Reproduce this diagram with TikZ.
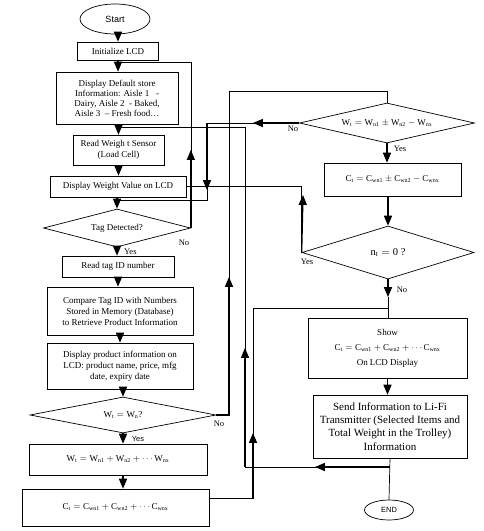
\documentclass[tikz,border=0pt]{standalone}
\usepackage{fontspec}
\setmainfont{Liberation Serif}
\newfontfamily\sansfam{Liberation Sans}
\usepackage{amsmath}
\usetikzlibrary{arrows,shapes,positioning,calc}

\begin{document}
\begin{tikzpicture}[x=1pt,y=-1pt,
  box/.style={draw,line width=0.7pt,rectangle,align=center,inner sep=1pt,font=\fontsize{9}{11}\selectfont},
  dec/.style={draw,line width=0.7pt,diamond,aspect=4,inner sep=0pt,font=\fontsize{9}{11}\selectfont},
  term/.style={draw,line width=0.7pt,ellipse,inner sep=0pt,font=\sansfam\fontsize{9}{11}\selectfont},
  flow/.style={line width=0.7pt},
  arr/.style={-triangle 45,line width=1.3pt},
  lbl/.style={font=\fontsize{8.5}{10}\selectfont,inner sep=0pt}]
\useasboundingbox (0,0) rectangle (484,531);

% left column
\node[term,minimum width=70pt,minimum height=30pt] (start) at (115,19) {Start};
\node[box,minimum width=81pt,minimum height=18pt] (init) at (118,51) {Initialize LCD};
\node[box,minimum width=122pt,minimum height=52pt,font=\fontsize{9}{10}\selectfont] (dflt) at (117,98)
  {Display Default store\\Information: Aisle 1\ \ \ -\\Dairy, Aisle 2\ \ - Baked,\\Aisle 3\ \ -- Fresh food…};
\node[box,minimum width=91pt,minimum height=30pt] (rws) at (118.5,150) {Read Weigh t Sensor\\(Load Cell)};
\node[box,minimum width=136pt,minimum height=21pt] (dwv) at (118,186.5) {Display Weight Value on LCD};
\node[dec,minimum width=147pt,minimum height=38pt] (tag) at (117,228) {Tag Detected?};
\node[box,minimum width=112pt,minimum height=21pt] (rtag) at (118,266.5) {Read tag ID number};
\node[box,minimum width=146pt,minimum height=48pt] (cmp) at (120,311)
  {Compare Tag ID with Numbers\\Stored in Memory (Database)\\to Retrieve Product Information};
\node[box,minimum width=146pt,minimum height=46pt] (dpi) at (120,366)
  {Display product information on\\LCD: product name, price, mfg\\date, expiry date};
\node[dec,minimum width=186pt,minimum height=36pt] (wtn) at (123,415) {$\mathrm{W_t = W_n}$?};
\node[box,minimum width=178pt,minimum height=31pt] (wsum) at (118,459.5)
  {$\mathrm{W_t = W_{n1} + W_{n2} + \cdots W_{nx}}$};
\node[box,minimum width=187pt,minimum height=37pt] (csum) at (115.5,507.5)
  {$\mathrm{C_t = C_{wn1} + C_{wn2} + \cdots C_{wnx}}$};

% right column
\node[dec,minimum width=175pt,minimum height=40pt] (wchk) at (387,123)
  {$\mathrm{W_t = W_{n1} \pm W_{n2} - W_{nx}}$};
\node[box,minimum width=137pt,minimum height=33pt] (cchk) at (392.5,179.5)
  {$\mathrm{C_t = C_{wn1} \pm C_{wn2} - C_{wnx}}$};
\node[dec,minimum width=172pt,minimum height=53pt,font=\fontsize{10.5}{12}\selectfont] (nt) at (388,252.5) {$\mathrm{n_t = 0}$ ?};
\node[box,minimum width=159pt,minimum height=60pt] (show) at (387.5,348)
  {Show\\[4pt]$\mathrm{C_t = C_{wn1} + C_{wn2} + \cdots C_{wnx}}$\\[4pt]On LCD Display};
\node[box,minimum width=154pt,minimum height=63pt,font=\fontsize{11}{13.3}\selectfont] (send) at (390,426.5)
  {Send Information to Li-Fi\\Transmitter (Selected Items and\\Total Weight in the Trolley)\\Information};
\node[term,minimum width=49pt,minimum height=20pt,font=\sansfam\fontsize{7.5}{9}\selectfont] (end) at (389,510) {END};

% bends of the loops
\coordinate (tnA) at (190,62);
\coordinate (tnM) at (190,150);
\coordinate (wnA) at (207,123);
\coordinate (wnM) at (207,190);
\coordinate (wnB) at (207,200);
\coordinate (wtA) at (229,91);
\coordinate (wtM) at (229,277);
\coordinate (slA) at (245,467);
\coordinate (slB) at (245,127);
\coordinate (slM) at (245,348);
\coordinate (slN) at (315,467);
\coordinate (csA) at (253,498);
\coordinate (csB) at (253,308);
\coordinate (csM) at (253,433);
\coordinate (ntM) at (303,195);
\coordinate (ntN) at (388,297);

% main arrows
\draw[arr] (init.north |- start.south) -- (init.north);
\draw[arr] (init.south) -- (init.south |- dflt.north);
\draw[arr] (rws.north |- dflt.south) -- (rws.north);
\draw[arr] (rws.south) -- (rws.south |- dwv.north);
\draw[arr] (tag.north |- dwv.south) -- (tag.north);
\draw[arr] (tag.south) -- (tag.south |- rtag.north);
\draw[arr] (rtag.south) -- (rtag.south |- cmp.north);
\draw[arr] (cmp.south) -- (cmp.south |- dpi.north);
\draw[arr] (wtn.north |- dpi.south) -- (wtn.north);
\draw[arr] (wtn.south) -- (wtn.south |- wsum.north);
\draw[arr] (wtn.south |- wsum.south) -- (wtn.south |- csum.north);
\draw[arr] (wchk.south) -- (wchk.south |- cchk.north);
\draw[arr] (nt.north |- cchk.south) -- (nt.north);
\draw[arr] (nt.south) -- (ntN);
\draw[flow] (ntN) -- (ntN |- show.north);
\draw[arr] (show.south) -- (show.south |- send.north);
\draw[flow] (send.south) -- (end.north);

% loops
\draw[flow] (tag.east) -- (tag.east |- tnA) -- (tnA -| init.south);
\draw[arr] (tag.east) -- (tag.east |- tnM);
\draw[flow] (wchk.west) -- (wnA) -- (wnB) -- (wnB -| tag.north);
\draw[arr] (wchk.west) -- (wchk.west -| 253,0);
\draw[arr] (wnA) -- (wnM);
\draw[flow] (wtn.east) -| (wtA) -| (wchk.north);
\draw[arr] (wtn.east) -| (wtM);
\draw[flow] (send.south |- slA) -- (slA) -- (slB) -- (slB -| rws.north);
\draw[arr] (send.south |- slA) -- (slN);
\draw[arr] (slA) -- (slM);
\draw[flow] (csA -| csum.east) -- (csA) -- (csB) -- (csB -| ntN);
\draw[arr] (csA) -- (csM);
\draw[flow] (nt.west) |- (dwv.east);
\draw[arr] (nt.west) -- (ntM);

% labels
\node[lbl,anchor=west] (yes1) at (124,252) {Yes};
\node[lbl] (no1) at (184,243) {No};
\node[lbl,font=\sansfam\fontsize{7.5}{9}\selectfont] (yes2) at (138,439) {Yes};
\node[lbl] (no2) at (219,424) {No};
\node[lbl] (no3) at (293,129) {No};
\node[lbl] (yes3) at (400,149) {Yes};
\node[lbl] (yes4) at (307,262) {Yes};
\node[lbl] (no4) at (402,290) {No};
\end{tikzpicture}
\end{document}
